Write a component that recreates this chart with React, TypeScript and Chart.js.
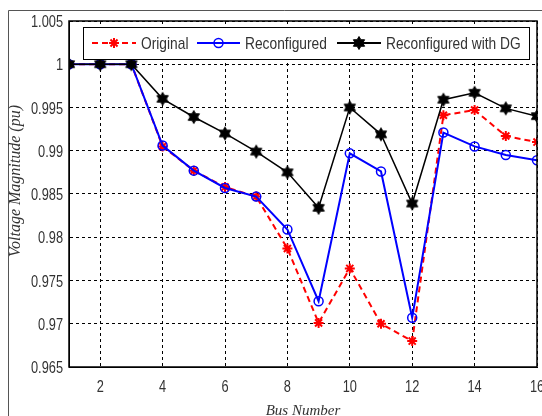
import React, { useEffect, useRef } from "react";
import { Chart, registerables } from "chart.js";

Chart.register(...registerables);

const busNumbers = [1, 2, 3, 4, 5, 6, 7, 8, 9, 10, 11, 12, 13, 14, 15, 16];
const original = [1.0, 1.0, 1.0, 0.9905, 0.9877, 0.9858, 0.9847, 0.9787, 0.9701, 0.9764, 0.97, 0.968, 0.9941, 0.9947, 0.9917, 0.991];
const reconfigured = [1.0, 1.0, 1.0, 0.9906, 0.9877, 0.9857, 0.9847, 0.9809, 0.9726, 0.9897, 0.9876, 0.9707, 0.9921, 0.9905, 0.9895, 0.9889];
const reconfiguredDG = [1.0, 1.0, 1.0, 0.996, 0.9939, 0.992, 0.9899, 0.9875, 0.9834, 0.995, 0.9919, 0.9839, 0.9959, 0.9967, 0.9949, 0.994];
const seriesLabels = ["Original", "Reconfigured", "Reconfigured with DG"];
const xTicks = [2, 4, 6, 8, 10, 12, 14, 16];
const xTickLabels = ["2", "4", "6", "8", "10", "12", "14", "16"];
const yTicks = [0.965, 0.97, 0.975, 0.98, 0.985, 0.99, 0.995, 1.0, 1.005];
const yTickLabels = ["0.965", "0.97", "0.975", "0.98", "0.985", "0.99", "0.995", "1", "1.005"];
const xTitle = "Bus Number";
const yTitle = "Voltage Magnitude (pu)";

const SANS = "'Liberation Sans', Arial, sans-serif";
const SERIF = "'Liberation Serif', 'Times New Roman', serif";
const TEXT = "#333333";

function makeHexagram(r: number, color: string): HTMLCanvasElement {
  const size = Math.ceil(r * 2 + 3);
  const c = document.createElement("canvas");
  c.width = size;
  c.height = size;
  const ctx = c.getContext("2d")!;
  ctx.translate(size / 2, size / 2);
  ctx.beginPath();
  for (let i = 0; i < 12; i++) {
    const ang = -Math.PI / 2 + (i * Math.PI) / 6;
    const rad = i % 2 === 0 ? r : r * 0.577;
    ctx.lineTo(rad * Math.cos(ang), rad * Math.sin(ang));
  }
  ctx.closePath();
  ctx.fillStyle = color;
  ctx.fill();
  ctx.strokeStyle = color;
  ctx.lineWidth = 1;
  ctx.stroke();
  return c;
}

function drawAsterisk(ctx: CanvasRenderingContext2D, x: number, y: number, r: number, color: string) {
  ctx.save();
  ctx.strokeStyle = color;
  ctx.lineWidth = 2;
  ctx.setLineDash([]);
  ctx.beginPath();
  for (let i = 0; i < 4; i++) {
    const a = (i * Math.PI) / 4;
    ctx.moveTo(x - r * Math.cos(a), y - r * Math.sin(a));
    ctx.lineTo(x + r * Math.cos(a), y + r * Math.sin(a));
  }
  ctx.stroke();
  ctx.restore();
}

function narrowText(
  ctx: CanvasRenderingContext2D,
  text: string,
  x: number,
  y: number,
  size: number,
  sx: number,
  align: CanvasTextAlign
) {
  ctx.save();
  ctx.translate(x, y);
  ctx.scale(sx, 1);
  ctx.font = `${size}px ${SANS}`;
  ctx.fillStyle = TEXT;
  ctx.textAlign = align;
  ctx.textBaseline = "alphabetic";
  ctx.fillText(text, 0, 0);
  ctx.restore();
}

export default function App() {
  const ref = useRef<HTMLCanvasElement | null>(null);

  useEffect(() => {
    if (!ref.current) return;
    const hex = makeHexagram(6.5, "#000000");

    const framePlugin = {
      id: "frameAndLegend",
      afterDraw(chart: any) {
        const { ctx, chartArea } = chart;
        const { left, right, top, bottom } = chartArea;
        const xs = chart.scales.x;
        const ys = chart.scales.y;
        ctx.save();
        // outer figure frame
        ctx.strokeStyle = "#555555";
        ctx.lineWidth = 1;
        ctx.setLineDash([]);
        ctx.beginPath();
        ctx.moveTo(8.5, 416);
        ctx.lineTo(8.5, 10.5);
        ctx.lineTo(560, 10.5);
        ctx.stroke();
        // axes box
        ctx.strokeStyle = "#000000";
        ctx.lineWidth = 1.5;
        ctx.strokeRect(left, top, right - left, bottom - top);

        // tick labels (condensed)
        xTicks.forEach((v, i) => {
          narrowText(ctx, xTickLabels[i], xs.getPixelForValue(v), 392, 16, 0.8, "center");
        });
        yTicks.forEach((v, i) => {
          narrowText(ctx, yTickLabels[i], 63, ys.getPixelForValue(v) + 6, 16, 0.8, "right");
        });

        // titles
        ctx.fillStyle = TEXT;
        ctx.font = `italic 15px ${SERIF}`;
        ctx.textAlign = "center";
        ctx.textBaseline = "alphabetic";
        ctx.fillText(xTitle, (left + right) / 2, 415);
        ctx.save();
        ctx.translate(20, 181);
        ctx.rotate(-Math.PI / 2);
        ctx.font = `italic 16px ${SERIF}`;
        ctx.fillText(yTitle, 0, 0);
        ctx.restore();

        // legend
        const lx = 83, ly = 27, lw = 446, lh = 32;
        ctx.fillStyle = "#ffffff";
        ctx.fillRect(lx, ly, lw, lh);
        ctx.strokeStyle = "#000000";
        ctx.lineWidth = 1;
        ctx.strokeRect(lx + 0.5, ly + 0.5, lw, lh);
        const cy = ly + lh / 2;
        const items = [
          { x0: 92, x1: 136, tx: 141, color: "#ff0000", dash: [6, 4] },
          { x0: 197, x1: 240, tx: 245, color: "#0000ff", dash: [] as number[] },
          { x0: 337, x1: 381, tx: 386, color: "#000000", dash: [] as number[] },
        ];
        items.forEach((it, i) => {
          ctx.save();
          ctx.strokeStyle = it.color;
          ctx.lineWidth = 2;
          ctx.setLineDash(it.dash);
          ctx.beginPath();
          ctx.moveTo(it.x0, cy);
          ctx.lineTo(it.x1, cy);
          ctx.stroke();
          ctx.restore();
          const mx = (it.x0 + it.x1) / 2;
          if (i === 0) drawAsterisk(ctx, mx, cy, 5, it.color);
          if (i === 1) {
            ctx.save();
            ctx.strokeStyle = it.color;
            ctx.lineWidth = 1.5;
            ctx.beginPath();
            ctx.arc(mx, cy, 4.5, 0, Math.PI * 2);
            ctx.stroke();
            ctx.restore();
          }
          if (i === 2) ctx.drawImage(hex, mx - hex.width / 2, cy - hex.height / 2);
          narrowText(ctx, seriesLabels[i], it.tx, cy + 6, 17, 0.81, "left");
        });
        ctx.restore();
      },
    };

    const toPts = (arr: number[]) => busNumbers.map((b, i) => ({ x: b, y: arr[i] }));

    const chart = new Chart(ref.current, {
      type: "line",
      data: {
        datasets: [
          {
            label: seriesLabels[0],
            data: toPts(original),
            borderColor: "#ff0000",
            backgroundColor: "#ff0000",
            borderWidth: 2,
            borderDash: [6, 4],
            pointStyle: "star",
            pointRadius: 5,
            pointBorderWidth: 2,
            pointBorderColor: "#ff0000",
            order: 3,
          },
          {
            label: seriesLabels[1],
            data: toPts(reconfigured),
            borderColor: "#0000ff",
            backgroundColor: "rgba(0,0,0,0)",
            borderWidth: 2,
            pointStyle: "circle",
            pointRadius: 4.5,
            pointBorderWidth: 1.5,
            pointBorderColor: "#0000ff",
            pointBackgroundColor: "rgba(0,0,0,0)",
            order: 2,
          },
          {
            label: seriesLabels[2],
            data: toPts(reconfiguredDG),
            borderColor: "#000000",
            backgroundColor: "#000000",
            borderWidth: 1.5,
            pointStyle: hex,
            pointRadius: 6,
            order: 1,
          },
        ],
      },
      options: {
        responsive: false,
        animation: false,
        events: [],
        layout: { padding: { left: 0, top: 21, right: 23, bottom: 0 } },
        plugins: {
          legend: { display: false },
          tooltip: { enabled: false },
          title: { display: false },
        },
        scales: {
          x: {
            type: "linear",
            min: 1,
            max: 16,
            afterBuildTicks: (s: any) => {
              s.ticks = xTicks.map((v) => ({ value: v }));
            },
            afterFit: (s: any) => {
              s.height = 49;
              s.paddingLeft = 0;
              s.paddingRight = 0;
            },
            grid: { color: "#000000", lineWidth: 1, drawTicks: false },
            border: { display: true, color: "#000000", width: 1, dash: [3, 3] },
            ticks: { display: false },
          },
          y: {
            type: "linear",
            min: 0.965,
            max: 1.005,
            afterBuildTicks: (s: any) => {
              s.ticks = yTicks.map((v) => ({ value: v }));
            },
            afterFit: (s: any) => {
              s.width = 69;
              s.paddingTop = 0;
              s.paddingBottom = 0;
            },
            grid: { color: "#000000", lineWidth: 1, drawTicks: false },
            border: { display: true, color: "#000000", width: 1, dash: [3, 3] },
            ticks: { display: false },
          },
        },
      },
      plugins: [framePlugin],
    });
    return () => chart.destroy();
  }, []);

  return (
    <div style={{ position: "absolute", left: 0, top: 0, width: 542, height: 416, overflow: "hidden", background: "#ffffff" }}>
      <canvas ref={ref} width={560} height={416} style={{ display: "block" }} />
    </div>
  );
}
